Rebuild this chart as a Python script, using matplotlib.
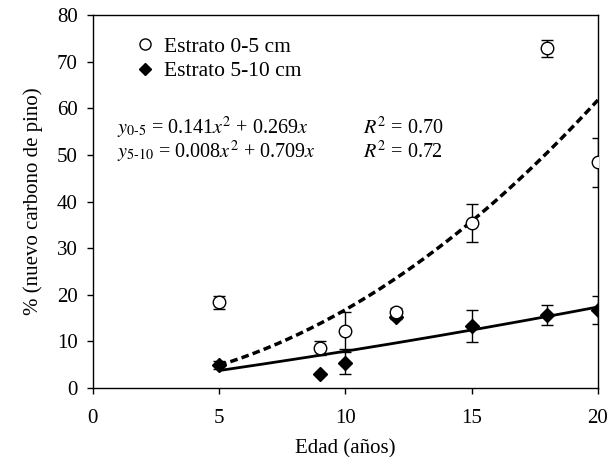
import numpy as np
import matplotlib
matplotlib.use("Agg")
import matplotlib.pyplot as plt
from matplotlib.lines import Line2D

plt.rcParams['font.family'] = ['Liberation Serif', 'DejaVu Serif']
plt.rcParams['mathtext.fontset'] = 'stix'

# data
edad = [5, 9, 10, 12, 15, 18, 20]
estrato_0_5 = [18.4, 8.6, 12.3, 16.3, 35.4, 72.9, 48.4]
err_0_5 = [1.4, 1.5, 4.0, 0.8, 4.0, 1.8, 5.3]
estrato_5_10 = [4.9, 3.0, 5.4, 15.3, 13.3, 15.6, 16.7]
err_5_10 = [0.8, 0.0, 2.3, 0.5, 3.5, 2.1, 3.0]

# fitted curves (coefficients a*x^2 + b*x shown on the chart)
coef_0_5 = [0.141, 0.269]
coef_5_10 = [0.008, 0.709]

fig = plt.figure(figsize=(6.07, 4.57), dpi=100)
ax = fig.add_axes([0.153, 0.151, 0.832, 0.816])

xf = np.linspace(5, 20, 200)
ax.plot(xf, coef_0_5[0] * xf**2 + coef_0_5[1] * xf, color='black',
        lw=2.5, ls=(0, (2.2, 1.2)), zorder=2)
ax.plot(xf, coef_5_10[0] * xf**2 + coef_5_10[1] * xf, color='black',
        lw=2.0, zorder=2)

ax.errorbar(edad, estrato_5_10, yerr=err_5_10, fmt='D', color='black',
            mfc='black', ms=7.5, capsize=4.5, elinewidth=1, capthick=1,
            zorder=3)
ax.errorbar(edad, estrato_0_5, yerr=err_0_5, fmt='o', color='black',
            mfc='white', ms=9, mew=1, capsize=4.5, elinewidth=1, capthick=1,
            zorder=4)

# legend without error bars
h1 = Line2D([], [], ls='none', marker='o', color='black', mfc='white',
            ms=8, mew=1)
h2 = Line2D([], [], ls='none', marker='D', color='black', mfc='black', ms=6.5)
ax.legend([h1, h2], ['Estrato 0-5 cm', 'Estrato 5-10 cm'], loc='upper left',
          bbox_to_anchor=(0.07, 0.965), frameon=False, fontsize=15.5,
          handlelength=0.8, handletextpad=0.45, labelspacing=0.2,
          borderaxespad=0)

ax.text(0.95, 55.8, r'$y_{\text{0-5}}$ = 0.141$x^2$ + 0.269$x$',
        fontsize=14.5, va='center')
ax.text(0.95, 50.6, r'$y_{\text{5-10}}$ = 0.008$x^2$ + 0.709$x$',
        fontsize=14.5, va='center')
ax.text(10.7, 55.8, r'$R^2$ = 0.70', fontsize=14.5, va='center')
ax.text(10.7, 50.6, r'$R^2$ = 0.72', fontsize=14.5, va='center')

ax.set_xlim(0, 20)
ax.set_ylim(0, 80)
ax.set_xticks([0, 5, 10, 15, 20])
ax.set_yticks(range(0, 81, 10))
ax.tick_params(direction='out', length=4, width=1, labelsize=15)
ax.tick_params(axis='x', pad=11)
ax.tick_params(axis='y', pad=7)
ax.set_xlabel('Edad (años)', fontsize=15, labelpad=8)
ax.set_ylabel('% (nuevo carbono de pino)', fontsize=15, labelpad=10)
for s in ax.spines.values():
    s.set_linewidth(1)

fig.savefig('out.png', dpi=100)
